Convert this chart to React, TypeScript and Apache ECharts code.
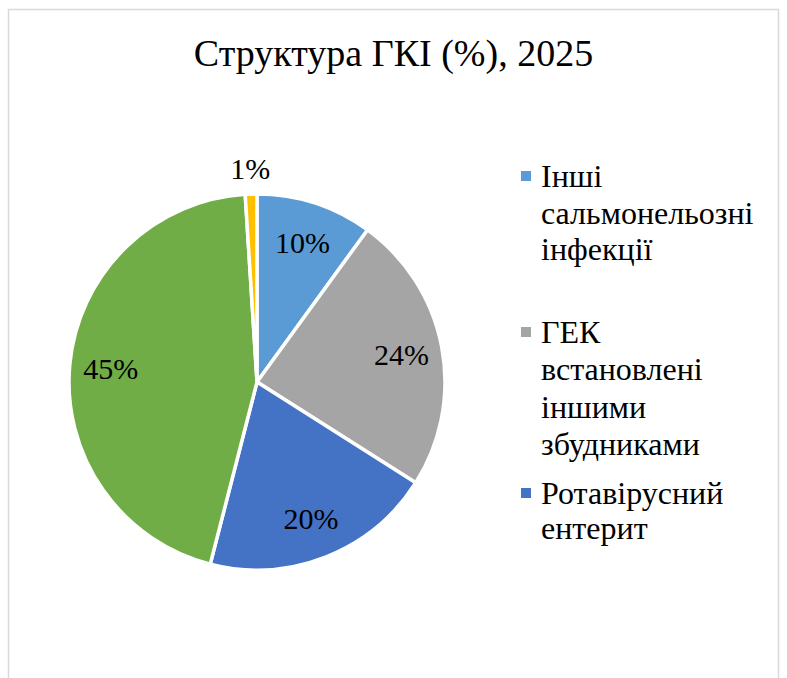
import React, { useEffect, useRef } from "react";
import * as echarts from "echarts";

const titleText = "Структура ГКІ (%), 2025";
const categories = [
  "Інші сальмонельозні інфекції",
  "ГЕК встановлені іншими збудниками",
  "Ротавірусний ентерит",
  "ГЕК невстановленої етіології",
  "Шигельоз",
];
const values = [10, 24, 20, 45, 1];
const colors = ["#5B9BD5", "#A5A5A5", "#4472C4", "#70AD47", "#FFC000"];
const legendNames = categories.slice(0, 3);
const legendLines = [
  ["Інші", "сальмонельозні", "інфекції"],
  ["ГЕК", "встановлені", "іншими", "збудниками"],
  ["Ротавірусний", "ентерит"],
];
const outsideLabelNames = ["Шигельоз"];

const FONT = "Liberation Serif";

export default function App() {
  const ref = useRef<HTMLDivElement>(null);
  useEffect(() => {
    document.body.style.margin = "0";
    document.body.style.overflow = "hidden";
    if (!ref.current) return;
    const chart = echarts.init(ref.current, undefined, { renderer: "svg" });
    const center = [257, 382];
    const baseData = categories.map((name, i) => ({
      name,
      value: values[i],
      itemStyle: { color: colors[i] },
    }));
    const labelStyle = {
      fontFamily: FONT,
      fontWeight: "normal",
      fontSize: 30,
      color: "#000",
      formatter: "{d}%",
    };
    const lineCenters = [176, 332, 493];
    const lineHeights = [36.5, 37.3, 35];
    const option: any = {
      animation: false,
      backgroundColor: "#fff",
      textStyle: { fontFamily: FONT },
      title: {
        text: titleText,
        left: "center",
        top: 34,
        padding: 0,
        textStyle: { fontFamily: FONT, fontSize: 38, fontWeight: "normal", color: "#000" },
      },
      graphic: [
        {
          type: "rect",
          silent: true,
          z: -10,
          shape: { x: 8.5, y: 9.5, width: 770, height: 720 },
          style: { fill: "none", stroke: "#D9D9D9", lineWidth: 1.5 },
        },
      ],
      legend: legendNames.map((name, i) => {
        const n = legendLines[i].length;
        const lh = lineHeights[i];
        return {
          data: [name],
          orient: "vertical",
          left: 521,
          top: lineCenters[i] - ((2 * n - 1) * lh) / 2,
          padding: 0,
          icon: "rect",
          itemWidth: 10,
          itemHeight: 10,
          selectedMode: false,
          itemStyle: { borderWidth: 0 },
          formatter: () => "\n".repeat(n - 1) + legendLines[i].join("\n"),
          textStyle: {
            fontFamily: FONT,
            fontWeight: "normal",
            fontSize: 32,
            lineHeight: lh,
            color: "#000",
            padding: [0, 0, 0, 5],
            backgroundColor: "rgba(255,255,255,0)",
          },
        };
      }),
      series: [
        {
          type: "pie",
          center,
          radius: 188,
          startAngle: 90,
          clockwise: true,
          avoidLabelOverlap: false,
          label: { show: false },
          labelLine: { show: false },
          emphasis: { disabled: true },
          itemStyle: { borderColor: "#fff", borderWidth: 3.5 },
          data: baseData,
        },
        {
          type: "pie",
          center,
          radius: [100, 188],
          startAngle: 90,
          clockwise: true,
          silent: true,
          avoidLabelOverlap: false,
          emphasis: { disabled: true },
          labelLine: { show: false },
          itemStyle: { color: "rgba(0,0,0,0)", borderWidth: 0 },
          label: { show: true, position: "inside", ...labelStyle },
          data: categories.map((name, i) => ({
            name,
            value: values[i],
            itemStyle: { color: "rgba(0,0,0,0)" },
            label: { show: !outsideLabelNames.includes(name) },
          })),
        },
        {
          type: "pie",
          center,
          radius: [196, 226],
          startAngle: 90,
          clockwise: true,
          silent: true,
          avoidLabelOverlap: false,
          emphasis: { disabled: true },
          labelLine: { show: false },
          itemStyle: { color: "rgba(0,0,0,0)", borderWidth: 0 },
          label: { show: true, position: "inside", ...labelStyle },
          data: categories.map((name, i) => ({
            name,
            value: values[i],
            itemStyle: { color: "rgba(0,0,0,0)" },
            label: { show: outsideLabelNames.includes(name) },
          })),
        },
      ],
    };
    chart.setOption(option);
    return () => chart.dispose();
  }, []);
  return <div ref={ref} style={{ width: 787, height: 678 }} />;
}
